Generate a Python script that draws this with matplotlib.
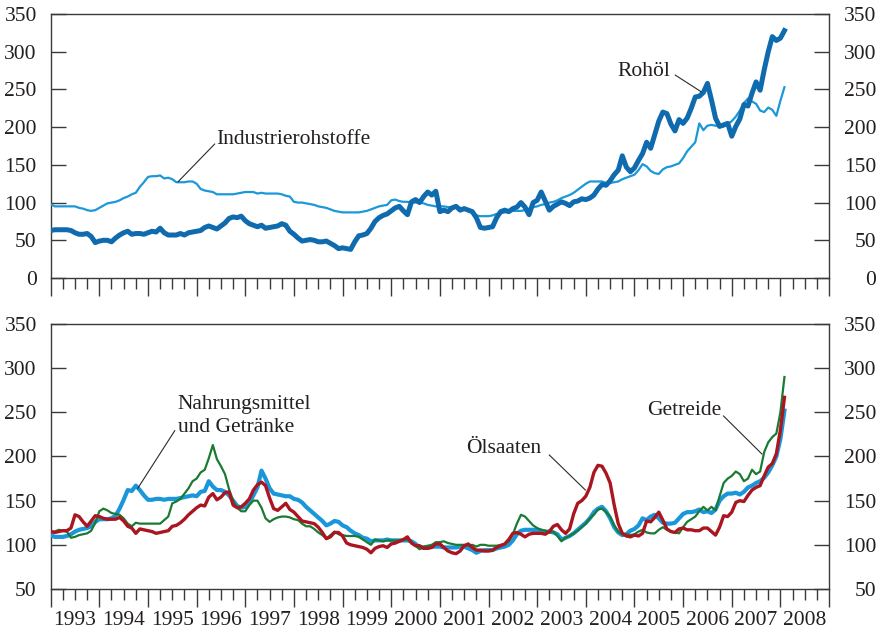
import numpy as np
import matplotlib
matplotlib.use("Agg")
import matplotlib.pyplot as plt
from matplotlib.ticker import FixedLocator, NullFormatter, FuncFormatter

# Monatswerte Jan 1993 - Feb 2008
start_year = 1993

industrie = [
    98, 95, 95, 95, 95, 95, 95, 93, 92, 90, 89, 90,          # 1993
    93, 96, 99, 100, 101, 103, 106, 108, 111, 113, 121, 127,  # 1994
    134, 135, 135, 136, 132, 133, 131, 127, 127, 127, 128, 128,  # 1995
    125, 118, 116, 115, 114, 111, 111, 111, 111, 111, 112, 113,  # 1996
    114, 114, 114, 112, 113, 112, 112, 112, 112, 111, 109, 108,  # 1997
    101, 100, 100, 99, 98, 97, 95, 94, 93, 91, 89, 88,        # 1998
    87, 87, 87, 87, 87, 88, 89, 91, 93, 95, 96, 97,           # 1999
    103, 104, 102, 101, 101, 100, 100, 100, 99, 97, 96, 95,   # 2000
    95, 95, 94, 94, 94, 93, 92, 90, 86, 83, 82, 82,           # 2001
    82, 83, 85, 86, 87, 88, 89, 89, 89, 90, 92, 94,           # 2002
    95, 97, 98, 100, 101, 103, 106, 108, 110, 113, 117, 121,  # 2003
    125, 128, 128, 128, 128, 126, 126, 127, 128, 131, 133, 135,  # 2004
    137, 143, 151, 148, 142, 139, 138, 144, 147, 148, 150, 152,  # 2005
    159, 168, 174, 180, 205, 196, 202, 203, 202, 201, 201, 204,  # 2006
    208, 214, 222, 232, 238, 234, 231, 222, 220, 226, 223, 215,  # 2007
    235, 253,                                                 # 2008
]

rohoel = [
    63, 64, 64, 64, 64, 63, 60, 58, 58, 59, 55, 47,
    49, 50, 50, 48, 53, 57, 60, 62, 58, 59, 59, 58,
    60, 62, 61, 66, 60, 57, 57, 57, 59, 57, 60, 61,
    62, 63, 67, 69, 67, 65, 69, 73, 79, 81, 80, 82,
    76, 72, 70, 68, 70, 66, 67, 68, 69, 72, 70, 62,
    58, 53, 49, 50, 51, 50, 48, 48, 49, 46, 43, 39,
    40, 39, 38, 48, 56, 57, 59, 66, 75, 80, 83, 85,
    89, 93, 95, 89, 84, 101, 104, 100, 108, 114, 110, 115,
    88, 90, 88, 93, 95, 90, 92, 90, 88, 80, 67, 66,
    67, 68, 80, 88, 90, 88, 92, 94, 100, 94, 84, 100,
    103, 114, 102, 90, 95, 98, 101, 99, 96, 101, 102, 105,
    104, 106, 110, 118, 124, 123, 129, 137, 143, 162, 147, 141,
    146, 156, 165, 180, 172, 190, 208, 220, 218, 204, 195, 210,
    205, 212, 225, 240, 241, 246, 258, 236, 212, 201, 203, 205,
    188, 201, 211, 230, 228, 245, 260, 249, 276, 300, 320, 315,
    318, 328,
]

nahrung = [
    111, 109, 109, 109, 110, 112, 115, 117, 118, 119, 121, 126,
    129, 129, 129, 130, 133, 141, 151, 162, 161, 167, 162, 156,
    151, 151, 152, 152, 151, 152, 152, 152, 153, 154, 155, 156,
    155, 160, 161, 172, 166, 162, 162, 160, 156, 150, 144, 142,
    143, 147, 156, 165, 184, 175, 164, 158, 157, 156, 155, 155,
    152, 151, 148, 143, 139, 135, 131, 127, 122, 124, 127, 126,
    122, 120, 116, 113, 111, 108, 107, 104, 105, 105, 105, 106,
    105, 105, 105, 105, 105, 104, 101, 97, 97, 97, 98, 98,
    98, 97, 97, 97, 97, 98, 98, 96, 94, 91, 93, 94,
    94, 94, 96, 97, 98, 100, 105, 112, 116, 117, 117, 117,
    117, 116, 115, 115, 114, 112, 106, 108, 110, 113, 117, 121,
    125, 130, 137, 141, 143, 138, 130, 120, 114, 111, 112, 116,
    118, 122, 130, 128, 132, 134, 130, 125, 124, 124, 125, 130,
    135, 137, 137, 138, 140, 137, 138, 136, 140, 150, 155, 158,
    158, 159, 157, 160, 165, 167, 170, 172, 176, 182, 190, 200,
    220, 252,
]

getreide = [
    115, 115, 117, 116, 115, 108, 109, 111, 112, 113, 116, 125,
    138, 141, 139, 136, 135, 134, 130, 124, 121, 125, 124, 124,
    124, 124, 124, 124, 128, 132, 147, 149, 152, 158, 164, 172,
    175, 182, 185, 198, 213, 197, 189, 180, 163, 150, 142, 138,
    138, 145, 150, 150, 142, 130, 126, 129, 131, 132, 132, 131,
    129, 128, 124, 121, 121, 118, 114, 111, 107, 111, 115, 112,
    111, 110, 110, 110, 109, 106, 103, 100, 106, 105, 104, 105,
    105, 105, 105, 106, 106, 103, 99, 95, 98, 99, 100, 103,
    103, 104, 102, 101, 100, 100, 100, 99, 100, 98, 100, 100,
    99, 99, 99, 100, 101, 104, 112, 124, 134, 132, 127, 122,
    119, 117, 116, 114, 115, 110, 104, 108, 110, 113, 116, 120,
    124, 130, 134, 140, 141, 137, 132, 122, 115, 112, 112, 111,
    112, 115, 117, 114, 113, 113, 117, 120, 117, 115, 114, 113,
    120, 126, 129, 132, 138, 143, 139, 143, 139, 155, 170, 175,
    178, 183, 180, 172, 175, 185, 180, 183, 205, 216, 222, 226,
    250, 290,
]

oelsaaten = [
    115, 114, 115, 116, 116, 119, 134, 132, 126, 121, 127, 133,
    132, 130, 129, 129, 129, 131, 127, 121, 119, 113, 118, 117,
    116, 115, 113, 114, 115, 116, 121, 122, 125, 129, 134, 138,
    142, 145, 144, 154, 158, 151, 154, 159, 160, 145, 142, 143,
    147, 152, 162, 168, 171, 167, 153, 141, 139, 143, 147, 140,
    137, 132, 127, 126, 125, 124, 120, 114, 107, 109, 114, 114,
    110, 102, 100, 99, 98, 97, 95, 91, 96, 98, 99, 97,
    101, 102, 104, 106, 109, 102, 99, 99, 96, 96, 97, 101,
    101, 97, 93, 91, 90, 93, 99, 101, 97, 94, 94, 93,
    93, 94, 97, 99, 101, 106, 113, 114, 112, 109, 112, 113,
    113, 113, 112, 115, 121, 123, 117, 113, 118, 135, 147, 150,
    155, 165, 182, 190, 189, 181, 170, 145, 124, 113, 110, 109,
    111, 110, 113, 127, 126, 131, 137, 128, 118, 115, 114, 118,
    119, 117, 117, 116, 116, 119, 119, 115, 111, 120, 133, 132,
    137, 148, 150, 149, 156, 162, 165, 167, 178, 188, 192, 203,
    230, 267,
]

years = list(range(1993, 2009))
top_yticks = [0, 50, 100, 150, 200, 250, 300, 350]
bottom_yticks = [50, 100, 150, 200, 250, 300, 350]

FONT = "Liberation Serif"
TXT = "#231f20"
AXC = "#3a3a3a"
FS = 15.5


def months_to_x(values):
    return start_year + np.arange(len(values)) / 12.0


def style_axes(ax, yticks, show_years):
    ax.set_xlim(1993, 2009)
    ax.set_ylim(yticks[0], yticks[-1])
    for s in ax.spines.values():
        s.set_color(AXC)
        s.set_linewidth(1.0)

    ax.xaxis.set_major_locator(FixedLocator(np.arange(1993, 2010)))
    quarters = [y + q for y in years for q in (0.25, 0.5, 0.75)]
    ax.xaxis.set_minor_locator(FixedLocator(quarters))
    ax.xaxis.set_major_formatter(NullFormatter())
    if show_years:
        ax.xaxis.set_minor_formatter(FuncFormatter(
            lambda v, p: str(int(v)) if abs(v - int(v) - 0.5) < 1e-6 else ""))
    else:
        ax.xaxis.set_minor_formatter(NullFormatter())
    ax.tick_params(axis="x", which="major", direction="out", length=13,
                   width=1.0, color=AXC)
    ax.tick_params(axis="x", which="minor", direction="out", length=8,
                   width=1.0, color=AXC, pad=8, labelsize=FS, labelcolor=TXT)
    for lbl in ax.get_xticklabels(minor=True):
        lbl.set_family(FONT)

    ax.set_yticks(yticks)
    ax.tick_params(axis="y", direction="in", length=11, width=1.0, color=AXC,
                   left=True, right=False, pad=10, labelsize=FS, labelcolor=TXT)
    for lbl in ax.get_yticklabels():
        lbl.set_family(FONT)

    # rechte Achse mit rechtsbündigen Beschriftungen
    ax2 = ax.twinx()
    ax2.set_ylim(yticks[0], yticks[-1])
    ax2.set_yticks(yticks)
    ax2.tick_params(axis="y", direction="in", length=11, width=1.0, color=AXC,
                    pad=34, labelsize=FS, labelcolor=TXT)
    for lbl in ax2.get_yticklabels():
        lbl.set_family(FONT)
        lbl.set_horizontalalignment("right")
    for s in ax2.spines.values():
        s.set_visible(False)


def label(ax, text, x, y, line_from, line_to):
    ax.text(x, y, text, family=FONT, fontsize=FS, color=TXT,
            ha="left", va="baseline")
    if line_from is not None:
        ax.plot([line_from[0], line_to[0]], [line_from[1], line_to[1]],
                color="#2a2a2a", lw=0.8, zorder=5)


fig = plt.figure(figsize=(8.83, 6.29), dpi=100)
ax_top = fig.add_axes([0.0574, 0.558, 0.8815, 0.4197])
ax_bot = fig.add_axes([0.0574, 0.0636, 0.8815, 0.4213])

# oben: Rohöl und Industrierohstoffe
ax_top.plot(months_to_x(industrie), industrie, color="#1b98d9", lw=1.6, zorder=3)
ax_top.plot(months_to_x(rohoel), rohoel, color="#0f6aae", lw=3.6, zorder=4,
            solid_joinstyle="round")
style_axes(ax_top, top_yticks, show_years=False)
label(ax_top, "Industrierohstoffe", 1996.41, 177.6,
      (1996.37, 177.6), (1995.62, 127.7))
label(ax_top, "Rohöl", 2004.65, 267.8, (2005.84, 269), (2006.37, 247))

# unten: Nahrungsmittel, Getreide, Ölsaaten
ax_bot.plot(months_to_x(nahrung), nahrung, color="#1a97da", lw=3.0, zorder=3)
ax_bot.plot(months_to_x(getreide), getreide, color="#1b7a32", lw=1.6, zorder=4)
ax_bot.plot(months_to_x(oelsaaten), oelsaaten, color="#aa1520", lw=2.4, zorder=5)
style_axes(ax_bot, bottom_yticks, show_years=True)
label(ax_bot, "Nahrungsmittel", 1995.61, 253.4, None, None)
label(ax_bot, "und Getränke", 1995.61, 228.0,
      (1995.55, 229.2), (1994.79, 164))
label(ax_bot, "Ölsaaten", 2001.54, 204.3, (2003.25, 201.7), (2003.99, 162.1))
label(ax_bot, "Getreide", 2005.27, 247.0, (2006.83, 245.9), (2007.62, 202.8))

fig.savefig("out.png", dpi=100)
